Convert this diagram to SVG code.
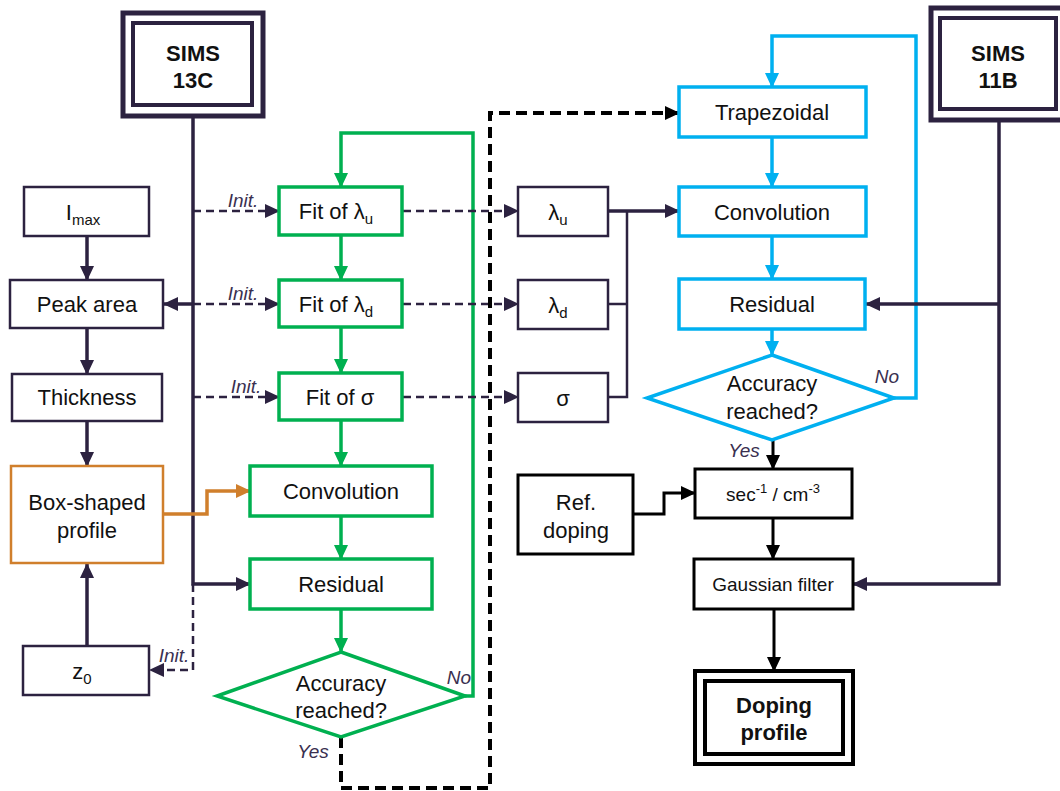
<svg xmlns="http://www.w3.org/2000/svg" width="1060" height="791" viewBox="0 0 1060 791">
<style>
text{font-family:"Liberation Sans",Arial,sans-serif;font-size:22px;fill:#111;text-anchor:middle}
.b{font-weight:bold}
.s16{font-size:19px}
.lbl{font-style:italic;font-size:19px;fill:#3a3050}
.pb{fill:#fff;stroke:#2c2240;stroke-width:2.5}
.kb{fill:#fff;stroke:#000;stroke-width:3}
.gb{fill:#fff;stroke:#00b050;stroke-width:3.5}
.bb{fill:#fff;stroke:#00b0f0;stroke-width:3.5}
.ob{fill:#fff;stroke:#d07f2c;stroke-width:2.5}
.pl{fill:none;stroke:#2c2240;stroke-width:3.5}
.pt{fill:none;stroke:#2c2240;stroke-width:2.5}
.pd{fill:none;stroke:#2c2240;stroke-width:2.5;stroke-dasharray:8,5}
.gl{fill:none;stroke:#00b050;stroke-width:3.5}
.bl{fill:none;stroke:#00b0f0;stroke-width:3.5}
.ol{fill:none;stroke:#d07f2c;stroke-width:3.5}
.kl{fill:none;stroke:#000;stroke-width:3}
.kd{fill:none;stroke:#000;stroke-width:4;stroke-dasharray:11,6}
</style>
<defs>
<marker id="ap" markerUnits="userSpaceOnUse" markerWidth="16" markerHeight="16" refX="14" refY="7" orient="auto"><path d="M0,0 L15,7 L0,14 z" fill="#2c2240"/></marker>
<marker id="ak" markerUnits="userSpaceOnUse" markerWidth="16" markerHeight="16" refX="14" refY="7" orient="auto"><path d="M0,0 L15,7 L0,14 z" fill="#000"/></marker>
<marker id="ag" markerUnits="userSpaceOnUse" markerWidth="16" markerHeight="16" refX="14" refY="7" orient="auto"><path d="M0,0 L15,7 L0,14 z" fill="#00b050"/></marker>
<marker id="ab" markerUnits="userSpaceOnUse" markerWidth="16" markerHeight="16" refX="14" refY="7" orient="auto"><path d="M0,0 L15,7 L0,14 z" fill="#00b0f0"/></marker>
<marker id="ao" markerUnits="userSpaceOnUse" markerWidth="16" markerHeight="16" refX="14" refY="7" orient="auto"><path d="M0,0 L15,7 L0,14 z" fill="#d07f2c"/></marker>
</defs>

<g id="connectors">
<path class="pl" d="M193,116 V584 H250" marker-end="url(#ap)"/>
<path class="pl" d="M193,304 H164" marker-end="url(#ap)"/>
<path class="pd" d="M193,211 H279" marker-end="url(#ap)"/>
<path class="pd" d="M193,304 H279" marker-end="url(#ap)"/>
<path class="pd" d="M193,397 H279" marker-end="url(#ap)"/>
<path class="pd" d="M193,584 V670 H150" marker-end="url(#ap)"/>
<path class="pl" d="M87,236 V280" marker-end="url(#ap)"/>
<path class="pl" d="M87,328 V374" marker-end="url(#ap)"/>
<path class="pl" d="M87,421 V466" marker-end="url(#ap)"/>
<path class="pl" d="M87,646 V564" marker-end="url(#ap)"/>
<path class="ol" d="M163,514 H207 V491 H250" marker-end="url(#ao)"/>
<path class="gl" d="M341,235 V280" marker-end="url(#ag)"/>
<path class="gl" d="M341,327 V373" marker-end="url(#ag)"/>
<path class="gl" d="M341,420 V466" marker-end="url(#ag)"/>
<path class="gl" d="M341,516 V559" marker-end="url(#ag)"/>
<path class="gl" d="M341,609 V652" marker-end="url(#ag)"/>
<path class="gl" d="M465,696 H473 V133 H341 V187" marker-end="url(#ag)"/>
<path class="pd" d="M403,211 H518" marker-end="url(#ap)"/>
<path class="pd" d="M403,304 H518" marker-end="url(#ap)"/>
<path class="pd" d="M403,397 H518" marker-end="url(#ap)"/>
<path class="kd" d="M341,737 V788 H490 V113 H679" marker-end="url(#ak)"/>
<path class="pt" d="M608,304 H627 M608,397 H627 V211"/>
<path class="pl" d="M608,211 H679" marker-end="url(#ap)"/>
<path class="bl" d="M772,137 V187" marker-end="url(#ab)"/>
<path class="bl" d="M772,236 V279" marker-end="url(#ab)"/>
<path class="bl" d="M772,329 V355" marker-end="url(#ab)"/>
<path class="bl" d="M894,398 H916 V36 H772 V87" marker-end="url(#ab)"/>
<path class="pl" d="M999,120 V584 H853" marker-end="url(#ap)"/>
<path class="pl" d="M999,304 H866" marker-end="url(#ap)"/>
<path class="kl" d="M773,440 V469" marker-end="url(#ak)"/>
<path class="kl" d="M633,514 H664 V493 H695" marker-end="url(#ak)"/>
<path class="kl" d="M773,518 V559" marker-end="url(#ak)"/>
<path class="kl" d="M774,609 V671" marker-end="url(#ak)"/>
</g>

<g id="labels">
<text class="lbl" x="243" y="207">Init.</text>
<text class="lbl" x="243" y="300">Init.</text>
<text class="lbl" x="246" y="393">Init.</text>
<text class="lbl" x="174" y="662">Init.</text>
<text class="lbl" x="459" y="684">No</text>
<text class="lbl" x="313" y="758">Yes</text>
<text class="lbl" x="887" y="383">No</text>
<text class="lbl" x="744" y="457">Yes</text>
</g>

<g id="sims13c">
<rect x="123" y="13" width="140" height="103" fill="#fff" stroke="#2c2240" stroke-width="5"/>
<rect x="133" y="23" width="119" height="82" fill="none" stroke="#2c2240" stroke-width="4"/>
<text class="b" x="193" y="61">SIMS</text>
<text class="b" x="193" y="88">13C</text>
</g>
<g id="imax"><rect class="pb" x="24" y="187" width="125" height="49"/><text x="83" y="220">I<tspan font-size="15" dy="5">max</tspan></text></g>
<g id="peak"><rect class="pb" x="10" y="280" width="153" height="48"/><text x="87" y="312">Peak area</text></g>
<g id="thickness"><rect class="pb" x="12" y="374" width="150" height="47"/><text x="87" y="405">Thickness</text></g>
<g id="boxprofile"><rect class="ob" x="11" y="466" width="152" height="97"/><text x="87" y="510">Box-shaped</text><text x="87" y="538">profile</text></g>
<g id="z0"><rect class="pb" x="23" y="646" width="126" height="49"/><text x="82" y="679">z<tspan font-size="15" dy="5">0</tspan></text></g>

<g id="fitlu"><rect class="gb" x="279" y="187" width="123" height="48"/><text x="336" y="219">Fit of λ<tspan font-size="15" dy="5">u</tspan></text></g>
<g id="fitld"><rect class="gb" x="279" y="280" width="123" height="47"/><text x="336" y="312">Fit of λ<tspan font-size="15" dy="5">d</tspan></text></g>
<g id="fitsigma"><rect class="gb" x="279" y="373" width="123" height="47"/><text x="340" y="405">Fit of σ</text></g>
<g id="gconv"><rect class="gb" x="250" y="466" width="182" height="50"/><text x="341" y="499">Convolution</text></g>
<g id="gres"><rect class="gb" x="250" y="559" width="182" height="50"/><text x="341" y="592">Residual</text></g>
<g id="gacc"><polygon class="gb" points="341,652 465,696 341,737 217,696"/><text x="341" y="691">Accuracy</text><text x="341" y="718">reached?</text></g>

<g id="plu"><rect class="pb" x="518" y="187" width="90" height="49"/><text x="558" y="220">λ<tspan font-size="15" dy="5">u</tspan></text></g>
<g id="pld"><rect class="pb" x="518" y="280" width="90" height="49"/><text x="558" y="313">λ<tspan font-size="15" dy="5">d</tspan></text></g>
<g id="psigma"><rect class="pb" x="518" y="373" width="90" height="49"/><text x="563" y="406">σ</text></g>

<g id="trap"><rect class="bb" x="679" y="87" width="187" height="50"/><text x="772" y="120">Trapezoidal</text></g>
<g id="bconv"><rect class="bb" x="679" y="187" width="187" height="49"/><text x="772" y="220">Convolution</text></g>
<g id="bres"><rect class="bb" x="679" y="279" width="186" height="50"/><text x="772" y="312">Residual</text></g>
<g id="bacc"><polygon class="bb" points="772,355 894,398 772,440 647,398"/><text x="772" y="391">Accuracy</text><text x="772" y="419">reached?</text></g>

<g id="sims11b">
<rect x="931" y="8" width="134" height="112" fill="#fff" stroke="#2c2240" stroke-width="5"/>
<rect x="940" y="18" width="116" height="91" fill="none" stroke="#2c2240" stroke-width="4"/>
<text class="b" x="998" y="61">SIMS</text>
<text class="b" x="998" y="88">11B</text>
</g>

<g id="refdoping"><rect class="kb" x="518" y="475" width="115" height="79"/><text x="576" y="510">Ref.</text><text x="576" y="538">doping</text></g>
<g id="units"><rect class="kb" x="695" y="469" width="157" height="49"/><text class="s16" x="773" y="501">sec<tspan font-size="13" dy="-8">-1</tspan><tspan dy="8"> / cm</tspan><tspan font-size="13" dy="-8">-3</tspan></text></g>
<g id="gauss"><rect class="kb" x="694" y="559" width="159" height="50"/><text class="s16" x="773" y="591">Gaussian filter</text></g>
<g id="doping">
<rect x="695" y="671" width="158" height="93" fill="#fff" stroke="#000" stroke-width="4"/>
<rect x="705" y="681" width="138" height="73" fill="none" stroke="#000" stroke-width="4"/>
<text class="b" x="774" y="713">Doping</text>
<text class="b" x="774" y="740">profile</text>
</g>
</svg>
